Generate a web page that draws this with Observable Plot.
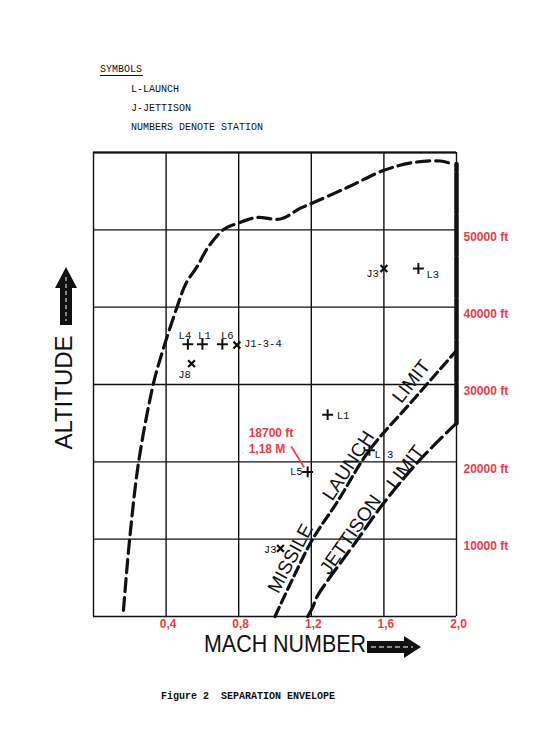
<!DOCTYPE html>
<html>
<head>
<meta charset="utf-8">
<script src="https://cdn.jsdelivr.net/npm/d3@7"></script>
<script src="https://cdn.jsdelivr.net/npm/@observablehq/plot@0.6"></script>
<style>
html, body { margin: 0; padding: 0; background: #ffffff; }
#chart svg { display: block; }
</style>
</head>
<body>
<div id="chart"></div>
<script>
// ---------- DATA ----------
const machGrid = [0, 0.4, 0.8, 1.2, 1.6, 2.0];
const altGrid = [0, 10000, 20000, 30000, 40000, 50000, 60000];
const machTickLabels = [0.4, 0.8, 1.2, 1.6, 2.0];
const altTickLabels = [10000, 20000, 30000, 40000, 50000];

// separation envelope (dashed boundary)
const envelopeMach = [0.165, 0.20, 0.25, 0.33, 0.37, 0.46, 0.51, 0.57, 0.63, 0.72, 0.79, 0.90, 1.03, 1.14, 1.20, 1.40, 1.60, 1.76, 1.91, 1.98];
const envelopeAlt  = [800, 10200, 20200, 30100, 33500, 40000, 43100, 45200, 47700, 50100, 50800, 51600, 51400, 52800, 53400, 55500, 57700, 58700, 58900, 58500];

// missile launch limit
const launchLimitMach = [1.0, 1.1, 1.21, 1.34, 1.52, 1.75, 2.0];
const launchLimitAlt  = [0, 5000, 10100, 14700, 21500, 27700, 34400];

// jettison limit
const jettisonLimitMach = [1.18, 1.21, 1.23, 1.45, 1.60, 1.80, 2.0];
const jettisonLimitAlt  = [0, 1300, 2500, 9800, 14700, 20300, 25000];

// solid right-hand limit (Mach 2.0)
const rightLimitMach = [2.0, 2.0];
const rightLimitAlt  = [25000, 58500];

// launch points (+)
const launchLabels = ["L4", "L1", "L6", "L3", "L1", "L 3", "L5"];
const launchMach   = [0.52, 0.60, 0.71, 1.79, 1.29, 1.52, 1.18];
const launchAlt    = [35200, 35200, 35200, 45000, 26100, 21500, 18700];

// jettison points (x)
const jettisonLabels = ["J1-3-4", "J8", "J3", "J3"];
const jettisonMach   = [0.79, 0.54, 1.60, 1.03];
const jettisonAlt    = [35100, 32700, 45000, 8800];

// labels written along the limit lines
const lineLabelTexts = ["MISSILE", "LAUNCH", "LIMIT", "JETTISON", "LIMIT"];
const lineLabelMach  = [1.085, 1.405, 1.752, 1.416, 1.719];
const lineLabelAlt   = [7500, 19500, 30400, 10600, 19300];
const lineLabelAngle = [-62, -57, -52, -55, -53];

// red annotation
const annotationMach = 1.18;
const annotationAlt  = 18700;

const legendLines = ["L-LAUNCH", "J-JETTISON", "NUMBERS DENOTE STATION"];
const legendTitle = "SYMBOLS";
const figureTitle = "Figure 2  SEPARATION ENVELOPE";
const xTitle = "MACH NUMBER";
const yTitle = "ALTITUDE";

// ---------- BUILD ----------
const zip = (xs, ys) => xs.map((x, i) => ({mach: x, alt: ys[i]}));
const envelope = zip(envelopeMach, envelopeAlt);
const launchLimit = zip(launchLimitMach, launchLimitAlt);
const jettisonLimit = zip(jettisonLimitMach, jettisonLimitAlt);
const rightLimit = zip(rightLimitMach, rightLimitAlt);
const launches = launchLabels.map((l, i) => ({label: l, mach: launchMach[i], alt: launchAlt[i]}));
const jettisons = jettisonLabels.map((l, i) => ({label: l, mach: jettisonMach[i], alt: jettisonAlt[i]}));
const lineLabels = lineLabelTexts.map((t, i) => ({text: t, mach: lineLabelMach[i], alt: lineLabelAlt[i], angle: lineLabelAngle[i]}));
const points = [...launches, ...jettisons];

// label placement per point (code-side layout)
const placement = {
  "L4|0.52": {dx: -3, dy: -9, anchor: "middle"},
  "L1|0.6": {dx: 2, dy: -9, anchor: "middle"},
  "L6|0.71": {dx: 5, dy: -9, anchor: "middle"},
  "L3|1.79": {dx: 8, dy: 6, anchor: "start"},
  "L1|1.29": {dx: 9, dy: 1, anchor: "start"},
  "L 3|1.52": {dx: 5, dy: 4, anchor: "start"},
  "L5|1.18": {dx: -5, dy: 0, anchor: "end"},
  "J1-3-4|0.79": {dx: 7, dy: -1, anchor: "start"},
  "J8|0.54": {dx: -7, dy: 11, anchor: "middle"},
  "J3|1.6": {dx: -5, dy: 5, anchor: "end"},
  "J3|1.03": {dx: -4, dy: 1, anchor: "end"}
};
const keyOf = d => d.label + "|" + d.mach;
const groups = {};
for (const d of points) {
  const p = placement[keyOf(d)];
  const k = `${p.dx},${p.dy},${p.anchor}`;
  (groups[k] = groups[k] || {p, data: []}).data.push(d);
}
const pointLabelMarks = Object.values(groups).map(({p, data}) =>
  Plot.text(data, {x: "mach", y: "alt", text: "label", dx: p.dx, dy: p.dy, textAnchor: p.anchor,
    fontFamily: "Liberation Mono, monospace", fontSize: 10.5, fill: "#111"}));

const RED = "#ef3b47";
const INK = "#111";
const comma = v => v.toFixed(1).replace(".", ",");

const chart = Plot.plot({
  width: 539,
  height: 750,
  marginTop: 152,
  marginBottom: 134,
  marginLeft: 93,
  marginRight: 83,
  x: {domain: [0, 2], axis: null},
  y: {domain: [0, 60000], axis: null},
  style: {background: "#ffffff", fontFamily: "Liberation Mono, monospace", overflow: "visible"},
  marks: [
    Plot.ruleX(machGrid, {stroke: INK, strokeWidth: 1.4}),
    Plot.ruleY(altGrid, {stroke: INK, strokeWidth: 1.4}),
    Plot.ruleY([60000], {stroke: INK, strokeWidth: 2}),
    Plot.line(envelope, {x: "mach", y: "alt", curve: "catmull-rom", stroke: INK, strokeWidth: 3.2, strokeDasharray: "13,6"}),
    Plot.line(launchLimit, {x: "mach", y: "alt", curve: "catmull-rom", stroke: INK, strokeWidth: 3.2, strokeDasharray: "10,5"}),
    Plot.line(jettisonLimit, {x: "mach", y: "alt", curve: "catmull-rom", stroke: INK, strokeWidth: 3.2, strokeDasharray: "15,6"}),
    Plot.line(rightLimit, {x: "mach", y: "alt", stroke: INK, strokeWidth: 4.5, strokeDasharray: "40,2"}),
    Plot.dot(launches, {x: "mach", y: "alt", symbol: "plus", r: 3.6, stroke: INK, strokeWidth: 2}),
    Plot.dot(jettisons, {x: "mach", y: "alt", symbol: "times", r: 3.2, stroke: INK, strokeWidth: 2.2}),
    ...pointLabelMarks,
    Plot.text(lineLabels, {x: "mach", y: "alt", text: "text", rotate: "angle",
      fontFamily: "Liberation Sans, sans-serif", fontSize: 19, fill: INK}),
    // red tick labels
    Plot.text(machTickLabels, {x: d => d, frameAnchor: "bottom", dx: 2, dy: 11, text: d => comma(d),
      fill: RED, fontWeight: "bold", fontSize: 12, fontFamily: "Liberation Sans, sans-serif"}),
    Plot.text(altTickLabels, {y: d => d, frameAnchor: "right", dx: 7, dy: 7, textAnchor: "start",
      text: d => `${d} ft`, fill: RED, fontWeight: "bold", fontSize: 12, fontFamily: "Liberation Sans, sans-serif"}),
    // red annotation
    Plot.text([{mach: annotationMach, alt: annotationAlt}], {x: "mach", y: "alt", dx: -59, dy: -32,
      textAnchor: "start", lineHeight: 1.35,
      text: d => `${d.alt} ft\n${d.mach.toFixed(2).replace(".", ",")} M`,
      fill: RED, fontWeight: "bold", fontSize: 12, fontFamily: "Liberation Sans, sans-serif"}),
    // axis titles
    Plot.text([xTitle], {frameAnchor: "bottom", dx: 10, dy: 35, text: d => d, textAnchor: "middle",
      fontFamily: "Liberation Sans, sans-serif", fontSize: 24, fill: INK, className: "xtitle"}),
    Plot.text([yTitle], {frameAnchor: "left", dx: -29, dy: 8, rotate: -90, text: d => d, textAnchor: "middle",
      fontFamily: "Liberation Sans, sans-serif", fontSize: 24, fill: INK})
  ]
});

document.getElementById("chart").appendChild(chart);

// ---------- DECORATIONS (derived from the frame) ----------
const xs = chart.scale("x"), ys = chart.scale("y");
const fx0 = xs.apply(0), fx1 = xs.apply(2);
const fy0 = ys.apply(0), fy1 = ys.apply(60000);
const fyMid = (fy0 + fy1) / 2;
const svg = d3.select(chart);

// compress x title width like the original lettering
svg.selectAll(".xtitle text").attr("textLength", 162).attr("lengthAdjust", "spacingAndGlyphs");

const deco = svg.append("g").attr("text-anchor", "start");

// altitude arrow (pointing up)
{
  const cx = fx0 - 27, top = fyMid - 117, headBase = fyMid - 96, bot = fyMid - 59;
  deco.append("path")
    .attr("d", `M${cx},${top} L${cx + 11},${headBase} L${cx + 6},${headBase} L${cx + 6},${bot} L${cx - 6},${bot} L${cx - 6},${headBase} L${cx - 11},${headBase} Z`)
    .attr("fill", INK);
  deco.append("line").attr("x1", cx).attr("x2", cx).attr("y1", top + 10).attr("y2", bot - 4)
    .attr("stroke", "#fff").attr("stroke-width", 1).attr("stroke-dasharray", "4,3");
}
// mach arrow (pointing right)
{
  const cy = fy0 + 31, left = fx1 - 89, headBase = fx1 - 52, tip = fx1 - 35;
  deco.append("path")
    .attr("d", `M${left},${cy - 6} L${headBase},${cy - 6} L${headBase},${cy - 11} L${tip},${cy} L${headBase},${cy + 11} L${headBase},${cy + 6} L${left},${cy + 6} Z`)
    .attr("fill", INK);
  deco.append("line").attr("x1", left + 4).attr("x2", tip - 8).attr("y1", cy).attr("y2", cy)
    .attr("stroke", "#fff").attr("stroke-width", 1).attr("stroke-dasharray", "5,3");
}
// red annotation leader
{
  const px = xs.apply(annotationMach), py = ys.apply(annotationAlt);
  deco.append("line").attr("x1", px - 16).attr("y1", py - 25).attr("x2", px - 3).attr("y2", py - 4)
    .attr("stroke", RED).attr("stroke-width", 1.8);
}
// legend
{
  const lx = fx0 + 7, ly = fy1 - 83;
  deco.append("text").attr("x", lx).attr("y", ly).attr("dominant-baseline", "central").attr("text-anchor", "start")
    .attr("font-family", "Liberation Mono, monospace").attr("font-size", 10).attr("fill", INK).text(legendTitle);
  deco.append("line").attr("x1", lx).attr("x2", lx + 43).attr("y1", ly + 6.5).attr("y2", ly + 6.5)
    .attr("stroke", INK).attr("stroke-width", 1);
  legendLines.forEach((s, i) => {
    deco.append("text").attr("x", lx + 31).attr("y", ly + 20 + i * 19.3).attr("dominant-baseline", "central")
      .attr("text-anchor", "start")
      .attr("font-family", "Liberation Mono, monospace").attr("font-size", 10).attr("fill", INK).text(s);
  });
}
// figure caption
deco.append("text").attr("x", fx0 + 68).attr("y", fy0 + 80).attr("dominant-baseline", "central")
  .attr("text-anchor", "start")
  .attr("font-family", "Liberation Mono, monospace").attr("font-size", 10).attr("font-weight", "bold")
  .attr("fill", INK).text(figureTitle);
</script>
</body>
</html>
